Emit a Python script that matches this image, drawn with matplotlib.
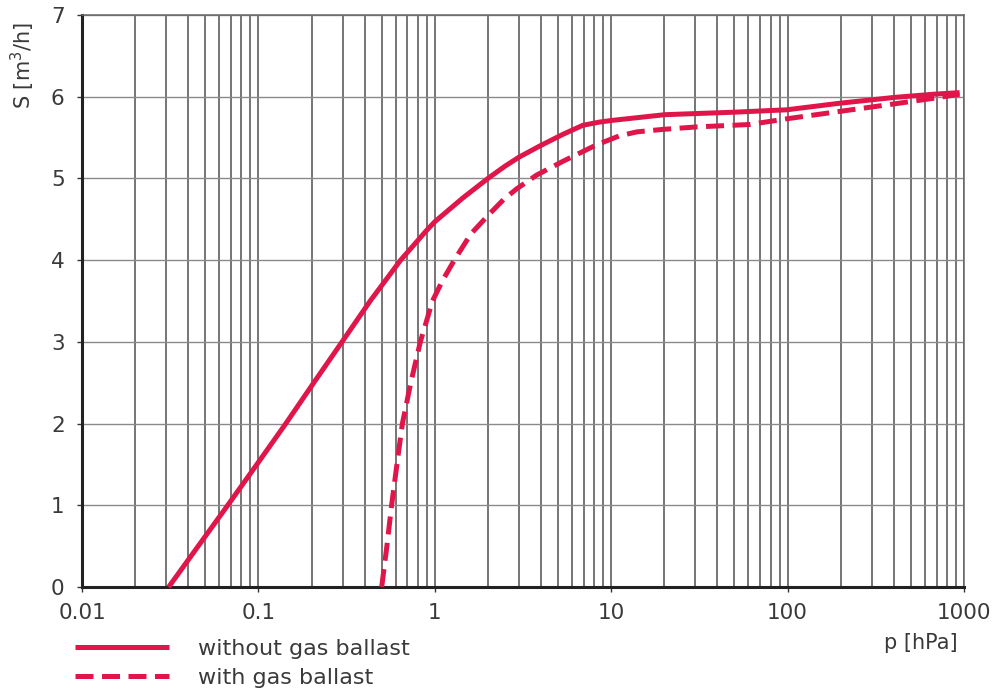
import matplotlib
matplotlib.use("Agg")
import matplotlib.pyplot as plt
from matplotlib.ticker import FixedLocator, NullFormatter, LogLocator
import numpy as np

# Data
p_without = [0.031, 0.067, 0.098, 0.143, 0.206, 0.298, 0.43, 0.64, 0.895, 1.0, 1.44, 2.0, 2.5, 3.0,
             3.96, 5.33, 6.9, 8.6, 10.1, 20.1, 49, 99, 197, 396, 667, 944]
s_without = [0.0, 1.0, 1.5, 2.0, 2.5, 3.0, 3.5, 4.0, 4.36, 4.47, 4.76, 5.0, 5.15, 5.26,
             5.40, 5.54, 5.65, 5.69, 5.71, 5.78, 5.81, 5.84, 5.92, 5.99, 6.03, 6.05]

p_with = [0.5, 0.535, 0.569, 0.61, 0.655, 0.731, 0.828, 0.97, 1.106, 1.29, 1.6, 2.05, 2.45, 2.9,
          3.77, 5.33, 8.24, 11.1, 14, 19.6, 30.3, 61, 99, 197, 396, 667, 944]
s_with = [0.0, 0.5, 1.0, 1.5, 2.0, 2.5, 3.0, 3.5, 3.75, 4.0, 4.32, 4.57, 4.74, 4.87,
          5.04, 5.21, 5.41, 5.52, 5.57, 5.60, 5.63, 5.66, 5.73, 5.82, 5.91, 5.98, 6.03]

x_ticks = [0.01, 0.1, 1, 10, 100, 1000]
x_ticklabels = ["0.01", "0.1", "1", "10", "100", "1000"]
y_ticks = [0, 1, 2, 3, 4, 5, 6, 7]
labels = ["without gas ballast", "with gas ballast"]

RED = "#e0164a"
TXT = "#3a3a3a"

plt.rcParams['font.family'] = ['DejaVu Sans']

fig = plt.figure(figsize=(9.93, 6.89), dpi=100)
ax = fig.add_axes([82/993, 1-587/689, (964-82)/993, (587-15)/689])

ax.set_xscale('log')
ax.set_xlim(0.01, 1000)
ax.set_ylim(0, 7)

# grid
ax.xaxis.set_major_locator(FixedLocator(x_ticks))
ax.xaxis.set_minor_locator(LogLocator(base=10, subs=np.arange(2, 10)))
ax.xaxis.set_minor_formatter(NullFormatter())
ax.set_xticks(x_ticks)
ax.set_xticklabels(x_ticklabels)
ax.set_yticks(y_ticks)
ax.grid(True, which='major', axis='x', color='#505050', lw=1.1)
ax.grid(True, which='minor', axis='x', color='#505050', lw=1.1)
ax.grid(True, which='major', axis='y', color='#8a8a8a', lw=1.0)
ax.set_axisbelow(True)

ax.tick_params(axis='both', which='major', direction='out', length=3.5, width=1,
               color='#333333', labelsize=15.5, labelcolor=TXT)
ax.tick_params(axis='x', which='major', pad=8)
ax.tick_params(axis='y', which='major', pad=9)
ax.tick_params(axis='x', which='minor', length=0)

for side in ['left', 'bottom']:
    ax.spines[side].set_linewidth(2.2)
    ax.spines[side].set_color('#222222')
for side in ['top', 'right']:
    ax.spines[side].set_linewidth(1.1)
    ax.spines[side].set_color('#666666')

l1, = ax.plot(p_without, s_without, color=RED, lw=3.6, solid_capstyle='butt',
              solid_joinstyle='round', label=labels[0], clip_on=False, zorder=3)
l2, = ax.plot(p_with, s_with, color=RED, lw=3.6, linestyle=(0, (3.6, 1.7)),
              dash_capstyle='butt', dash_joinstyle='round', label=labels[1],
              clip_on=False, zorder=3)

fig.text(23/993, 1-65/689, "S [m$^3$/h]", rotation=90, ha='center', va='center',
         fontsize=15, color=TXT)
fig.text(921/993, 1-643/689, "p [hPa]", ha='center', va='center',
         fontsize=15, color=TXT)

leg = fig.legend(handles=[l1, l2], loc='upper left', bbox_to_anchor=(68/993, 1-632/689),
                 frameon=False, fontsize=16, handlelength=4.25, handletextpad=1.3,
                 labelspacing=0.4, borderaxespad=0, borderpad=0.3)
for t in leg.get_texts():
    t.set_color(TXT)

fig.savefig("out.png", dpi=100)
